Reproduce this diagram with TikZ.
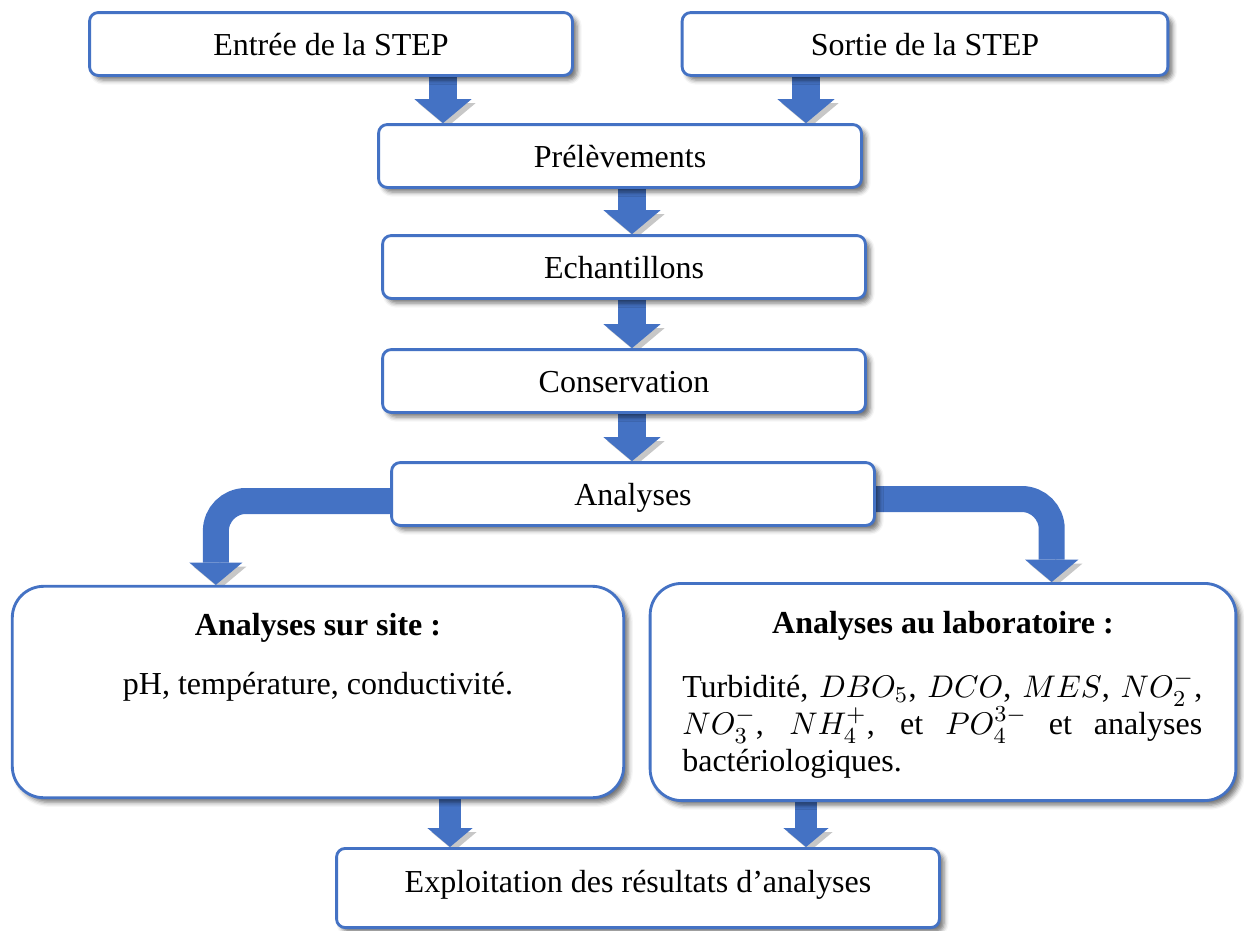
\documentclass[tikz,border=0pt]{standalone}
\usepackage{fontspec}
\setmainfont{Liberation Serif}
\usetikzlibrary{arrows.meta, calc, positioning, backgrounds, shadows.blur}
\definecolor{bleu}{RGB}{68,114,196}

\begin{document}
\begin{tikzpicture}[x=0.35pt, y=-0.35pt,
  txt/.style={font=\fontsize{11.2}{13}\selectfont, inner sep=0pt},
  box/.style={txt, draw=bleu, line width=1pt, fill=white, rounded corners=3pt,
    blur shadow={shadow xshift=1.6pt, shadow yshift=-1.6pt,
      shadow blur radius=1.6pt, shadow opacity=55},
    minimum width=169pt, minimum height=22pt, text height=10pt, text depth=2pt},
  bigbox/.style={box, rounded corners=11pt},
  flow/.style={draw=bleu, line width=#1,
    -{Triangle[line width=0pt, width=0pt 2.05, length=0pt 0.86]},
    preaction={draw=black!22, transform canvas={shift={(1.4pt,-1.4pt)}}}},
  flow/.default=9.8pt]
  \useasboundingbox (0,0) rectangle (1244,930);

  % Etapes
  \node[box] (entree) at (331,44) {Entrée de la STEP};
  \node[box, minimum width=170pt] (sortie) at (925,44) {Sortie de la STEP};
  \node[box] (prelev) at (620,156) {Prélèvements};
  \node[box] (echant) at (624,267) {Echantillons};
  \node[box] (conserv) at (624,381) {Conservation};
  \node[box] (analyses) at (633,494) {Analyses};

  % Analyses sur site / au laboratoire
  \node[bigbox, minimum width=214pt, minimum height=74pt] (site) at (318,692) {};
  \node[txt, font=\fontsize{11.2}{13}\selectfont\bfseries, anchor=base]
    (sitehead) at ($(site.north)+(0,51)$) {Analyses sur site :};
  \node[txt, anchor=base] (sitetxt) at ($(site.north)+(0,110)$)
    {pH, température, conductivité.};

  \node[bigbox, minimum width=205pt, minimum height=76pt] (labo) at (943,692) {};
  \node[txt, font=\fontsize{11.2}{13}\selectfont\bfseries, anchor=base]
    (labohead) at ($(labo.north)+(0,51)$) {Analyses au laboratoire :};
  \node[txt, anchor=north west, text width=182pt, align=justify]
    (labotxt) at ($(labo.north west)+(33,88)$)
    {Turbidité, $DBO_5$, $DCO$, $MES$, $NO_2^-$,\linebreak
     $NO_3^-$, $NH_4^+$, et $PO_4^{3-}$ et analyses\linebreak
     bactériologiques.};

  \node[box, minimum width=211pt, minimum height=27.7pt, text depth=6.8pt]
    (exploit) at (638,888) {Exploitation des résultats d’analyses};

  % Fleches
  \begin{pgfonlayer}{background}
    \coordinate (e1) at ($(entree.south)+(112,0)$);
    \coordinate (s1) at ($(sortie.south)+(-119,0)$);
    \draw[flow] (e1) -- (e1 |- prelev.north);
    \draw[flow] (s1) -- (s1 |- prelev.north);

    \coordinate (p1) at ($(prelev.south)+(12,0)$);
    \coordinate (c1) at ($(echant.south)+(8,0)$);
    \coordinate (c2) at ($(conserv.south)+(8,0)$);
    \draw[flow] (p1) -- (p1 |- echant.north);
    \draw[flow] (c1) -- (c1 |- conserv.north);
    \draw[flow] (c2) -- (c2 |- analyses.north);

    \coordinate (a1) at ($(analyses.west)+(0,7)$);
    \coordinate (a2) at ($(site.north west)+(205,0)$);
    \coordinate (a3) at ($(analyses.east)+(0,5)$);
    \coordinate (a4) at ($(labo.north west)+(403,0)$);
    \draw[flow=9.1pt, rounded corners=10.5pt] (a1) -| (a2);
    \draw[flow=9.1pt, rounded corners=10.5pt] (a3) -| (a4);

    \coordinate (b1) at ($(site.south)+(132,0)$);
    \coordinate (b2) at ($(labo.south)+(-137,0)$);
    \draw[flow=7.7pt] (b1) -- (b1 |- exploit.north);
    \draw[flow=7.7pt] (b2) -- (b2 |- exploit.north);
  \end{pgfonlayer}
\end{tikzpicture}
\end{document}
